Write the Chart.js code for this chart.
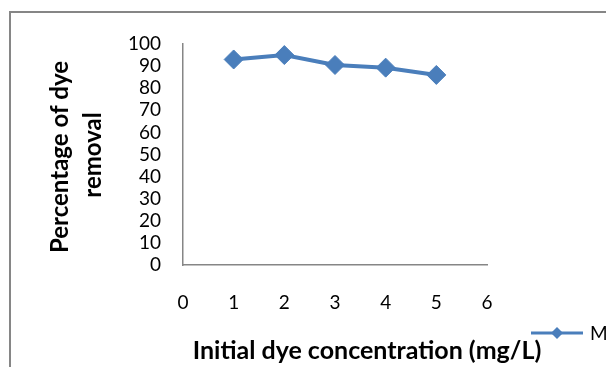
<!DOCTYPE html>
<html lang="en">
<head>
    <meta charset="UTF-8">
    <title>Dye removal chart</title>
    <script src="https://cdn.jsdelivr.net/npm/chart.js@4.4.0/dist/chart.umd.min.js"></script>
    <style>
        html, body { margin: 0; padding: 0; background: #ffffff; }
        #wrap { width: 606px; height: 367px; position: relative; }
    </style>
</head>
<body>
    <div id="wrap"><canvas id="chart"></canvas></div>
    <script>
        // data
        const concentrations = [1, 2, 3, 4, 5];
        const removal = [93, 95, 90.5, 89.3, 86];
        const seriesName = 'M';
        const xTitle = 'Initial dye concentration (mg/L)';
        const yTitle = ['Percentage of dye', 'removal'];

        const FONT = 'Lato, "Open Sans", Arial, sans-serif';
        const BLUE = '#4a7ebb';
        const GREY = '#868686';

        // frame, axis titles and legend
        const decor = {
            id: 'decor',
            afterDraw(chart) {
                const ctx = chart.ctx;
                ctx.save();
                ctx.strokeStyle = GREY;
                ctx.lineWidth = 2;
                ctx.strokeRect(10, 12, 620, 380);

                ctx.fillStyle = '#000';
                ctx.font = 'bold 25px ' + FONT;
                ctx.textAlign = 'center';
                ctx.textBaseline = 'alphabetic';
                ctx.fillText(xTitle, 367, 359);

                ctx.font = 'bold 24px ' + FONT;
                ctx.textBaseline = 'middle';
                ctx.translate(60, 157);
                ctx.rotate(-Math.PI / 2);
                ctx.fillText(yTitle[0], 0, 0);
                ctx.fillText(yTitle[1], 2, 33);
                ctx.restore();

                // legend
                const ds = chart.data.datasets[0];
                ctx.save();
                ctx.strokeStyle = ds.borderColor;
                ctx.lineWidth = 3;
                ctx.beginPath();
                ctx.moveTo(531, 333);
                ctx.lineTo(583, 333);
                ctx.stroke();
                ctx.fillStyle = ds.backgroundColor;
                ctx.beginPath();
                ctx.moveTo(557, 333 - 6);
                ctx.lineTo(563, 333);
                ctx.lineTo(557, 333 + 6);
                ctx.lineTo(551, 333);
                ctx.closePath();
                ctx.fill();
                ctx.fillStyle = '#000';
                ctx.font = '19px ' + FONT;
                ctx.textBaseline = 'middle';
                ctx.fillText(ds.label, 590, 334);
                ctx.restore();
            }
        };

        new Chart(document.getElementById('chart'), {
            type: 'line',
            data: {
                labels: concentrations,
                datasets: [{
                    label: seriesName,
                    data: concentrations.map((c, i) => ({ x: c, y: removal[i] })),
                    borderColor: BLUE,
                    backgroundColor: BLUE,
                    borderWidth: 4,
                    pointStyle: 'rectRot',
                    pointRadius: 9.5,
                    pointBorderWidth: 1,
                    tension: 0
                }]
            },
            options: {
                responsive: true,
                maintainAspectRatio: false,
                animation: false,
                layout: { padding: { left: 0, right: 119, top: 44, bottom: 0 } },
                plugins: {
                    legend: { display: false },
                    tooltip: { enabled: false }
                },
                scales: {
                    x: {
                        type: 'linear',
                        min: 0,
                        max: 6,
                        ticks: { stepSize: 1, padding: 26, autoSkip: false, color: '#000', font: { family: FONT, size: 19 } },
                        grid: { display: false, drawTicks: false },
                        border: { color: GREY, width: 1.5 },
                        afterFit(scale) { scale.height = 367 - 265; }
                    },
                    y: {
                        min: 0,
                        max: 100,
                        ticks: { stepSize: 10, padding: 22, autoSkip: false, color: '#000', font: { family: FONT, size: 19 } },
                        grid: { display: false, drawTicks: false },
                        border: { color: GREY, width: 1.5 },
                        afterFit(scale) { scale.width = 183; }
                    }
                }
            },
            plugins: [decor]
        });
    </script>
</body>
</html>
